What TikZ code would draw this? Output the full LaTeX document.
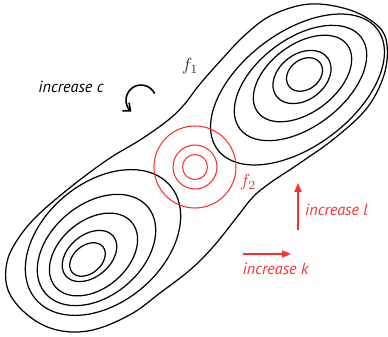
\documentclass[tikz,border=0pt]{standalone}
\usepackage{fontspec}
\newfontfamily\hintfont{PT Sans}
\usetikzlibrary{arrows.meta}
\definecolor{lvlred}{RGB}{250,48,48}
\newcommand{\RedTip}{Triangle[length=5pt,width=4pt]}
\tikzset{lvl/.style={line width=.7pt},redlvl/.style={draw=lvlred,line width=.6pt},
  redarr/.style={draw=lvlred,line width=.8pt,-{\RedTip}},
  hint/.style={font=\hintfont\itshape\fontsize{9.2}{11}\selectfont,inner sep=0pt}}

\begin{document}
\begin{tikzpicture}[x=.02cm,y=-.02cm]
\useasboundingbox(0,0)rectangle(388,337);
\draw[lvl]plot[smooth cycle,tension=.6]coordinates{(310,4)(350,10)(378,26)(387,45)(384,75)(367,108)(335,138)(300,163)(270,183)(253,197)(237,217)(213,247)(190,270)(160,293)(133,313)(100,328)(72,332)(45,326)(22,310)(8,290)(6,268)(13,247)(33,220)(67,190)(107,160)(140,140)(167,121)(183,106)(200,84)(223,58)(245,35)(272,15)};
\foreach \cx/\cy/\a/\b in{304.5/74.5/19.5/15,302/77/32/23,302.5/78.5/56/34,300.5/83/76/44,297.5/89.5/100/57}
  \draw[lvl,rotate around={37:(\cx,\cy)}](\cx,\cy)ellipse[x radius=\a,y radius=\b];
\foreach \cx/\cy/\a/\b in{87.5/259.5/20/14,89.5/256/31/21,93.5/254.5/50/34,96.5/250/67/46,103/242.5/88/60}
  \draw[lvl,rotate around={40:(\cx,\cy)}](\cx,\cy)ellipse[x radius=\a,y radius=\b];
\foreach \r in{12.5,22,41}\draw[redlvl](195,167)circle[radius=\r];
\node[black!80](fa)at(190,66){$f_1$};\node[lvlred](fb)at(248,182){$f_2$};
\node[hint](incc)at(71,87){increase c};
\coordinate(cs)at(154.6,93.7);\draw[line width=.9pt,-{Straight Barb[length=3.5pt,width=6pt]}](cs)arc(-25:-230:15);
\coordinate(ls)at(298,230);\coordinate(le)at(298,183);\draw[redarr](ls)--(le);
\node[hint,lvlred](incl)at(336.5,210){increase l};
\coordinate(ks)at(243,254);\coordinate(ke)at(291,254);\draw[redarr](ks)--(ke);
\node[hint,lvlred](inck)at(275.5,269){increase k};
\end{tikzpicture}
\end{document}
